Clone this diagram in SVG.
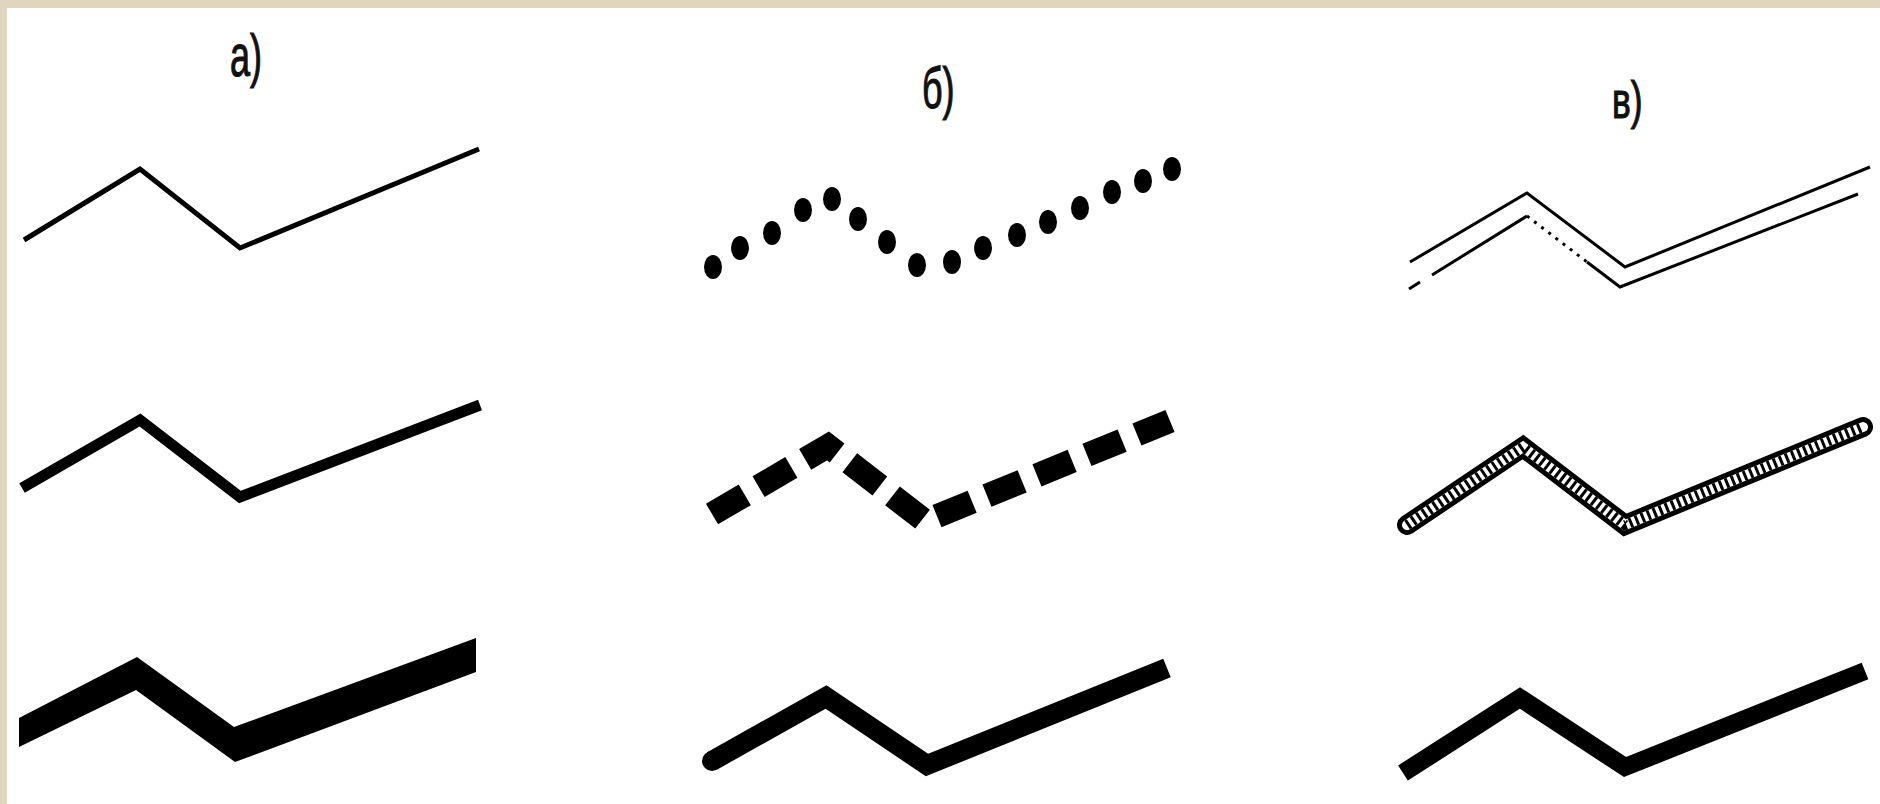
<svg xmlns="http://www.w3.org/2000/svg" width="1880" height="804" viewBox="0 0 1880 804">
<style>
.lbl{font-family:"Liberation Sans","DejaVu Sans",sans-serif;fill:#111;stroke:#111;stroke-width:1.2}
.ln{fill:none;stroke:#000;stroke-linejoin:miter;stroke-miterlimit:10}
.wh{fill:none;stroke:#fff;stroke-linejoin:miter;stroke-miterlimit:10}
.thin{fill:none;stroke:#000;stroke-width:3;stroke-linejoin:miter}
</style>
<rect x="0" y="0" width="1880" height="804" fill="#ffffff"/>
<rect x="0" y="0" width="1880" height="8" fill="#e0d6bf"/>
<rect x="0" y="0" width="7" height="804" fill="#e0d6bf"/>
<g id="labels">
<text class="lbl" font-size="60" transform="translate(230,76) scale(0.6,1)">а)</text>
<text class="lbl" font-size="58" transform="translate(922,108) scale(0.62,1)">б)</text>
<text class="lbl" font-size="52" transform="translate(1612,118) scale(0.68,1)">в)</text>
</g>
<g id="col-a">
<path id="a1" class="ln" stroke-width="5" d="M24,240 L140,169 L240,248 L479,149"/>
<path id="a2" class="ln" stroke-width="11" d="M22,488 L140,420 L240,497 L480,405"/>
<polygon id="a3" points="19,718 137,657 234,727 476,638 476,672 235,762 136,690 19,747" fill="#000"/>
</g>
<g id="col-b">
<g id="b1" fill="#000">
<ellipse cx="713" cy="267" rx="9" ry="12"/>
<ellipse cx="740" cy="248" rx="9" ry="12"/>
<ellipse cx="772" cy="233" rx="9" ry="12"/>
<ellipse cx="803" cy="210" rx="9" ry="12"/>
<ellipse cx="832" cy="199" rx="9" ry="12"/>
<ellipse cx="858" cy="219" rx="9" ry="12"/>
<ellipse cx="887" cy="242" rx="9" ry="12"/>
<ellipse cx="917" cy="265" rx="9" ry="12"/>
<ellipse cx="952" cy="262" rx="9" ry="12"/>
<ellipse cx="983" cy="248" rx="9" ry="12"/>
<ellipse cx="1017" cy="235" rx="9" ry="12"/>
<ellipse cx="1048" cy="222" rx="9" ry="12"/>
<ellipse cx="1080" cy="208" rx="9" ry="12"/>
<ellipse cx="1112" cy="192" rx="9" ry="12"/>
<ellipse cx="1143" cy="181" rx="9" ry="12"/>
<ellipse cx="1172" cy="169" rx="9" ry="12"/>
</g>
<path id="b2" class="ln" stroke-width="24" stroke-dasharray="38 16" d="M712,514 L828,446 L925,521 L1170,421"/>
<g id="b3">
<path class="ln" stroke-width="20" d="M712,761 L826,697 L927,765 L1167,668"/>
<circle cx="712" cy="761" r="10" fill="#000"/>
</g>
</g>
<g id="col-c">
<g id="c1">
<path class="thin" d="M1410,262 L1527,193 L1625,267 L1870,167"/>
<path class="thin" d="M1409,289 L1420,282"/>
<path class="thin" d="M1432,275 L1527,216"/>
<path class="thin" stroke-dasharray="3 6" d="M1527,216 L1587,262"/>
<path class="thin" d="M1587,262 L1620,287 L1858,194"/>
</g>
<g id="c2">
<path class="ln" stroke-width="20" stroke-linecap="round" d="M1407,525 L1523,447 L1625,525 L1863,427"/>
<path class="wh" stroke-width="10" stroke-linecap="round" d="M1407,525 L1523,447 L1625,525 L1863,427"/>
<path class="ln" stroke-width="10" stroke-dasharray="3 3.5" d="M1407,525 L1523,447 L1625,525 L1863,427"/>
</g>
<path id="c3" class="ln" stroke-width="18" d="M1403,773 L1520,698 L1625,767 L1865,671"/>
</g>
</svg>
